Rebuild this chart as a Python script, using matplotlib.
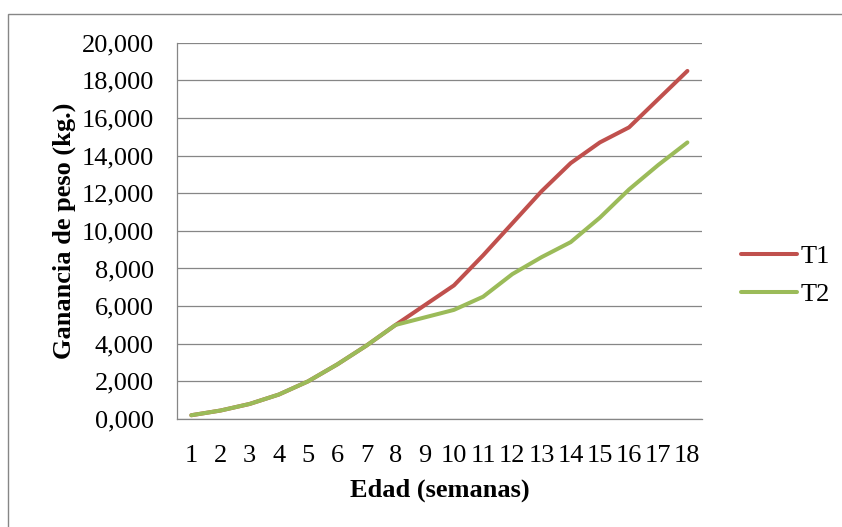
import matplotlib
matplotlib.use("Agg")
import matplotlib.pyplot as plt
from matplotlib.patches import Rectangle

# --- data (kg) ---
semanas = list(range(1, 19))
t1 = [0.20, 0.45, 0.80, 1.30, 2.00, 2.90, 3.90, 5.00, 6.05,
      7.10, 8.70, 10.40, 12.10, 13.60, 14.70, 15.50, 17.00, 18.50]
t2 = [0.20, 0.45, 0.80, 1.30, 2.00, 2.90, 3.90, 5.00, 5.40,
      5.80, 6.50, 7.70, 8.60, 9.40, 10.70, 12.20, 13.50, 14.70]
y_ticks = [0, 2, 4, 6, 8, 10, 12, 14, 16, 18, 20]

plt.rcParams['font.family'] = ['Liberation Serif', 'DejaVu Serif']
fs = 19
gris = '#868686'

fig = plt.figure(figsize=(8.42, 5.27), dpi=100)
ax = fig.add_axes([176.7 / 842, 1 - 419 / 527, (702 - 176.7) / 842, (419 - 42.7) / 527])

# outer chart frame (only left and top edges are visible)
fig.add_artist(Rectangle((8 / 842, -0.5), 2, 0.5 + (1 - 14 / 527),
                         transform=fig.transFigure, fill=False,
                         edgecolor=gris, lw=1.0))

ax.plot(semanas, t1, color='#C0504D', lw=2.9, solid_capstyle='round',
        solid_joinstyle='round', label='T1', zorder=3)
ax.plot(semanas, t2, color='#9BBB59', lw=2.9, solid_capstyle='round',
        solid_joinstyle='round', label='T2', zorder=4)

ax.set_xlim(0.5, 18.5)
ax.set_ylim(0, 20)
ax.set_xticks(semanas)
ax.set_xticklabels([str(s) for s in semanas])
ax.set_yticks(y_ticks)
ax.set_yticklabels([f"{v:.3f}".replace('.', ',') for v in y_ticks])
ax.tick_params(axis='both', length=0, labelsize=fs)
ax.tick_params(axis='y', pad=16.5)
ax.tick_params(axis='x', pad=18.5)

ax.grid(axis='y', color=gris, lw=0.9)
ax.set_axisbelow(True)
for s in ['top', 'right']:
    ax.spines[s].set_visible(False)
for s in ['left', 'bottom']:
    ax.spines[s].set_color(gris)
    ax.spines[s].set_linewidth(0.9)

ax.set_ylabel("Ganancia de peso (kg.)", fontsize=fs, fontweight='bold')
ax.yaxis.set_label_coords(-0.192, 0.5)
ax.set_xlabel("Edad (semanas)", fontsize=fs, fontweight='bold')
ax.xaxis.set_label_coords(0.5, -0.157)

ax.legend(loc='center left', bbox_to_anchor=(741 / 842, 1 - 275.5 / 527),
          bbox_transform=fig.transFigure, frameon=False, fontsize=fs,
          handlelength=2.12, handletextpad=0.12, labelspacing=0.55,
          borderpad=0, borderaxespad=0)

fig.savefig("out.png", dpi=100)
